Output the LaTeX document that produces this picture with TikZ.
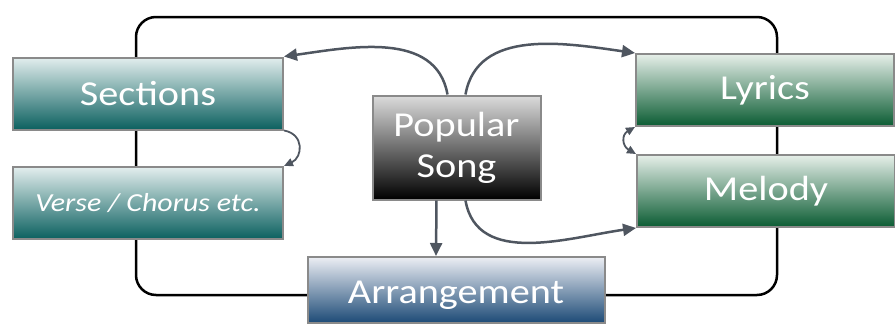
\documentclass[tikz,border=0pt]{standalone}
\usepackage{fontspec}
\setmainfont{Carlito}[FakeStretch=1.15]
\usepackage{xcolor}
\usepackage{tikz}
\usetikzlibrary{positioning,calc,arrows.meta}

\definecolor{tealtop}{HTML}{E3EEEE}
\definecolor{tealmid}{HTML}{6AA5A3}
\definecolor{tealbot}{HTML}{0B605F}
\definecolor{greentop}{HTML}{E6EFE9}
\definecolor{greenmid}{HTML}{6FA888}
\definecolor{greenbot}{HTML}{0B5C33}
\definecolor{greytop}{HTML}{DCDCDC}
\definecolor{greymid}{HTML}{6E6E6E}
\definecolor{bluetop}{HTML}{ECEEF4}
\definecolor{bluemid}{HTML}{7F9AB5}
\definecolor{bluebot}{HTML}{1C4A76}
\definecolor{edgegrey}{HTML}{8A8A8A}
\definecolor{arrowgrey}{HTML}{4F5660}

\tikzset{
  box/.style={draw=edgegrey, line width=2pt, text=white, inner sep=0pt,
    font=\fontsize{35}{40}\selectfont},
  tealbox/.style={box, top color=tealtop, middle color=tealmid, bottom color=tealbot},
  greenbox/.style={box, top color=greentop, middle color=greenmid, bottom color=greenbot},
  songbox/.style={box, top color=greytop, middle color=greymid, bottom color=black},
  bluebox/.style={box, top color=bluetop, middle color=bluemid, bottom color=bluebot},
  link/.style={draw=arrowgrey, line width=2.5pt, -{Triangle[length=13pt,width=12pt]}},
  smalllink/.style={draw=arrowgrey, line width=1.8pt, -{Triangle[length=9pt,width=8pt]}},
}

\begin{document}
\begin{tikzpicture}[x=1pt,y=1pt]
    \useasboundingbox (0,0) rectangle (895,-324);

    % Outer loop
    \draw [line width=2.5pt, rounded corners=20pt] (136,-17) rectangle (777,-295);

    % Left column
    \node [tealbox, minimum width=270pt, minimum height=72pt] (sec) at (148,-93.5) {Sections};
    \node [tealbox, minimum width=270pt, minimum height=72pt,
      font=\fontsize{26}{30}\selectfont\itshape] (verse) at (148,-203) {Verse / Chorus etc.};

    % Centre
    \node [songbox, minimum width=168pt, minimum height=104pt, align=center,
      font=\fontsize{35}{41}\selectfont] (song) at (456.5,-147.5) {Popular\\Song};
    \node [bluebox, minimum width=297pt, minimum height=66pt, text height=34pt, text depth=8pt]
      (arr) at (456,-290) {Arrangement};

    % Right column
    \node [greenbox, minimum width=258pt, minimum height=72pt] (lyr) at (765,-90) {Lyrics};
    \node [greenbox, minimum width=258pt, minimum height=72pt] (mel) at (766,-191) {Melody};

    % Links
    \draw [link] ([xshift=-9pt]song.north) to[out=100,in=8] (sec.north east);
    \draw [link] ([xshift=9pt]song.north) to[out=80,in=172] (lyr.north west);
    \draw [link] ([xshift=9pt]song.south) to[out=-80,in=188] (mel.south west);
    \draw [link] ([xshift=-20pt]song.south) -- ([xshift=-20pt]arr.north);
    \draw [smalllink] (sec.south east) to[out=-10,in=25,looseness=1.5] (verse.north east);
    \draw [smalllink, {Triangle[length=9pt,width=8pt]}-{Triangle[length=9pt,width=8pt]}]
      (lyr.south west) to[out=210,in=150,looseness=1.5] (mel.north west);
\end{tikzpicture}
\end{document}
